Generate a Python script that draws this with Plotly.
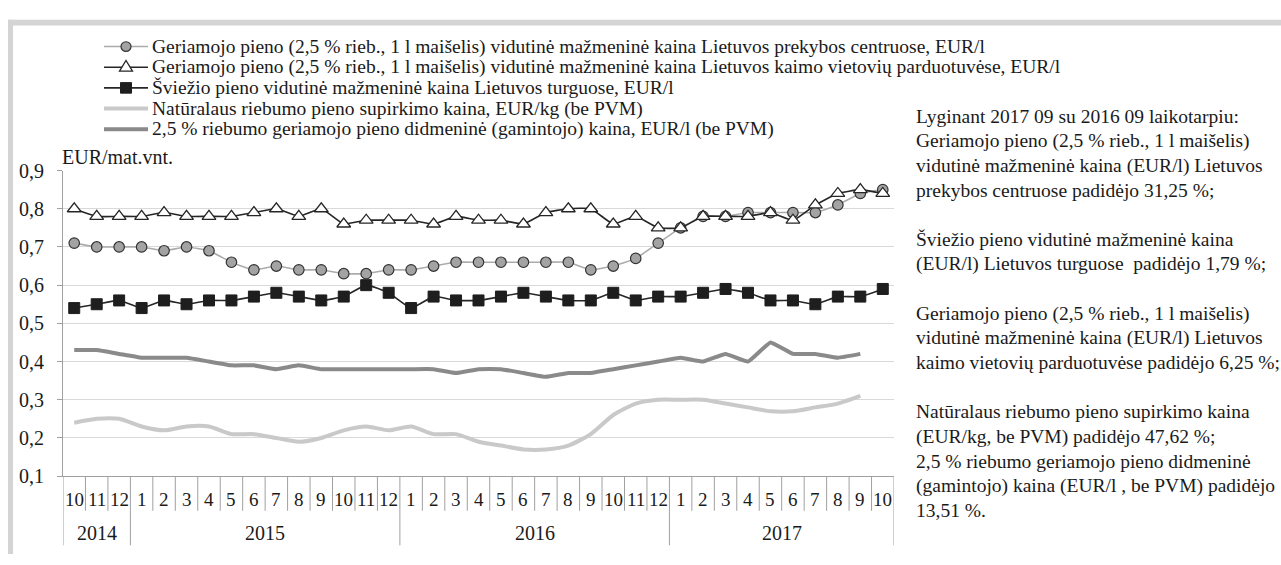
import plotly.graph_objects as go

# ---------------- data ----------------
months = [10, 11, 12] + list(range(1, 13)) + list(range(1, 13)) + list(range(1, 11))
years = [2014] * 3 + [2015] * 12 + [2016] * 12 + [2017] * 10
year_labels = ["2014", "2015", "2016", "2017"]

retail_centres = [0.71, 0.70, 0.70, 0.70, 0.69, 0.70, 0.69, 0.66, 0.64, 0.65, 0.64, 0.64,
                  0.63, 0.63, 0.64, 0.64, 0.65, 0.66, 0.66, 0.66, 0.66, 0.66, 0.66, 0.64,
                  0.65, 0.67, 0.71, 0.75, 0.78, 0.78, 0.79, 0.79, 0.79, 0.79, 0.81, 0.84, 0.85]
village_shops = [0.80, 0.78, 0.78, 0.78, 0.79, 0.78, 0.78, 0.78, 0.79, 0.80, 0.78, 0.80,
                 0.76, 0.77, 0.77, 0.77, 0.76, 0.78, 0.77, 0.77, 0.76, 0.79, 0.80, 0.80,
                 0.76, 0.78, 0.75, 0.75, 0.78, 0.78, 0.78, 0.79, 0.77, 0.81, 0.84, 0.85, 0.84]
markets = [0.54, 0.55, 0.56, 0.54, 0.56, 0.55, 0.56, 0.56, 0.57, 0.58, 0.57, 0.56,
           0.57, 0.60, 0.58, 0.54, 0.57, 0.56, 0.56, 0.57, 0.58, 0.57, 0.56, 0.56,
           0.58, 0.56, 0.57, 0.57, 0.58, 0.59, 0.58, 0.56, 0.56, 0.55, 0.57, 0.57, 0.59]
purchase = [0.24, 0.25, 0.25, 0.23, 0.22, 0.23, 0.23, 0.21, 0.21, 0.20, 0.19, 0.20,
            0.22, 0.23, 0.22, 0.23, 0.21, 0.21, 0.19, 0.18, 0.17, 0.17, 0.18, 0.21,
            0.26, 0.29, 0.30, 0.30, 0.30, 0.29, 0.28, 0.27, 0.27, 0.28, 0.29, 0.31, None]
wholesale = [0.43, 0.43, 0.42, 0.41, 0.41, 0.41, 0.40, 0.39, 0.39, 0.38, 0.39, 0.38,
             0.38, 0.38, 0.38, 0.38, 0.38, 0.37, 0.38, 0.38, 0.37, 0.36, 0.37, 0.37,
             0.38, 0.39, 0.40, 0.41, 0.40, 0.42, 0.40, 0.45, 0.42, 0.42, 0.41, 0.42, None]

series_names = [
    "Geriamojo pieno (2,5 % rieb., 1 l maišelis) vidutinė mažmeninė kaina Lietuvos prekybos centruose, EUR/l",
    "Geriamojo pieno (2,5 % rieb., 1 l maišelis) vidutinė mažmeninė kaina Lietuvos kaimo vietovių parduotuvėse, EUR/l",
    "Šviežio pieno vidutinė mažmeninė kaina Lietuvos turguose, EUR/l",
    "Natūralaus riebumo pieno supirkimo kaina, EUR/kg (be PVM)",
    "2,5 % riebumo geriamojo pieno didmeninė (gamintojo) kaina, EUR/l (be PVM)",
]

note_lines = [
    "Lyginant 2017 09 su 2016 09 laikotarpiu:",
    "Geriamojo pieno (2,5 % rieb., 1 l maišelis)",
    "vidutinė mažmeninė kaina (EUR/l) Lietuvos",
    "prekybos centruose padidėjo 31,25 %;",
    "",
    "Šviežio pieno vidutinė mažmeninė kaina",
    "(EUR/l) Lietuvos turguose  padidėjo 1,79 %;",
    "",
    "Geriamojo pieno (2,5 % rieb., 1 l maišelis)",
    "vidutinė mažmeninė kaina (EUR/l) Lietuvos",
    "kaimo vietovių parduotuvėse padidėjo 6,25 %;",
    "",
    "Natūralaus riebumo pieno supirkimo kaina",
    "(EUR/kg, be PVM) padidėjo 47,62 %;",
    "2,5 % riebumo geriamojo pieno didmeninė",
    "(gamintojo) kaina (EUR/l , be PVM) padidėjo",
    "13,51 %.",
]

# ---------------- layout helpers ----------------
W, H = 1281, 565
FONT = "Liberation Serif, Times New Roman, Times, serif"
TXT = "#1a1a1a"
AX = "#a0a0a0"
FS = 20

def fx(px):
    return px / W

def fy(py):
    return 1 - py / H

PL, PR, PT, PB = 63, 894, 166, 484   # plot area in pixels
n = len(months)
idx = list(range(n))

fig = go.Figure()

fig.add_trace(go.Scatter(
    x=idx, y=purchase, mode="lines", name=series_names[3],
    line=dict(color="#c9c9c9", width=4, shape="spline", smoothing=0.6),
    connectgaps=False, showlegend=False))
fig.add_trace(go.Scatter(
    x=idx, y=wholesale, mode="lines", name=series_names[4],
    line=dict(color="#8a8a8a", width=4, shape="spline", smoothing=0.3),
    showlegend=False))
fig.add_trace(go.Scatter(
    x=idx, y=markets, mode="lines+markers", name=series_names[2],
    line=dict(color="#262626", width=1.6, shape="spline", smoothing=0.4),
    marker=dict(symbol="square", size=11, color="#1e1e1e", line=dict(color="#1e1e1e", width=1)),
    showlegend=False))
fig.add_trace(go.Scatter(
    x=idx, y=retail_centres, mode="lines+markers", name=series_names[0],
    line=dict(color="#ababab", width=1.6, shape="spline", smoothing=0.4),
    marker=dict(symbol="circle", size=10.5, color="#a3a3a3", line=dict(color="#333333", width=1.2)),
    showlegend=False))
fig.add_trace(go.Scatter(
    x=idx, y=village_shops, mode="lines+markers", name=series_names[1],
    line=dict(color="#262626", width=1.6, shape="spline", smoothing=0.4),
    marker=dict(symbol="triangle-up", size=12, color="white", line=dict(color="#262626", width=1.3)),
    showlegend=False))

shapes = []
annotations = []

# outer frame (light grey, open at right/bottom like the crop)
shapes.append(dict(type="rect", xref="paper", yref="paper", x0=fx(8), x1=fx(W), y0=fy(15), y1=fy(9),
                   fillcolor="#d4d4d4", line=dict(width=0), layer="below"))
shapes.append(dict(type="rect", xref="paper", yref="paper", x0=fx(8), x1=fx(13), y0=fy(H), y1=fy(9),
                   fillcolor="#d4d4d4", line=dict(width=0), layer="below"))

# category separators below the x axis
for i in range(n + 1):
    boundary = i - 0.5
    is_year = (i == 0) or (i == n) or (years[i] != years[i - 1])
    shapes.append(dict(type="line", xref="x", yref="paper", x0=boundary, x1=boundary,
                       y0=fy(PB), y1=fy(556 if is_year else 520),
                       line=dict(color=AX, width=1)))

# month labels
for i, m in enumerate(months):
    annotations.append(dict(x=i, y=fy(508), xref="x", yref="paper", text=str(m), showarrow=False,
                            font=dict(family=FONT, size=19, color=TXT), xanchor="center", yanchor="middle"))
# year labels
for yl in year_labels:
    members = [i for i, yy in enumerate(years) if str(yy) == yl]
    cx = (members[0] + members[-1]) / 2
    annotations.append(dict(x=cx, y=fy(543), xref="x", yref="paper", text=yl, showarrow=False,
                            font=dict(family=FONT, size=FS, color=TXT), xanchor="center", yanchor="middle"))

# unit label
annotations.append(dict(x=fx(60), y=fy(152), xref="paper", yref="paper", text="EUR/mat.vnt.",
                        showarrow=False, font=dict(family=FONT, size=FS, color=TXT),
                        xanchor="left", yanchor="middle"))

# legend (manual)
leg_rows = [37, 58.5, 80, 101.5, 123]
LX0, LX1, LTX = 104, 148, 150
leg_styles = [
    dict(color="#ababab", width=1.6, marker="circle"),
    dict(color="#262626", width=1.6, marker="triangle"),
    dict(color="#262626", width=1.6, marker="square"),
    dict(color="#c9c9c9", width=4, marker=None),
    dict(color="#8a8a8a", width=4, marker=None),
]
for row, st, name in zip(leg_rows, leg_styles, series_names):
    shapes.append(dict(type="line", xref="paper", yref="paper", x0=fx(LX0), x1=fx(LX1),
                       y0=fy(row), y1=fy(row), line=dict(color=st["color"], width=st["width"])))
    cx = (LX0 + LX1) / 2
    if st["marker"] == "circle":
        r = 5
        shapes.append(dict(type="circle", xref="paper", yref="paper", x0=fx(cx - r), x1=fx(cx + r),
                           y0=fy(row + r), y1=fy(row - r), fillcolor="#a3a3a3",
                           line=dict(color="#333333", width=1.2)))
    elif st["marker"] == "triangle":
        pts = [(cx - 6.5, row + 4), (cx + 6.5, row + 4), (cx, row - 7)]
        path = "M {} {} L {} {} L {} {} Z".format(*[v for p in pts for v in (fx(p[0]), fy(p[1]))])
        shapes.append(dict(type="path", xref="paper", yref="paper", path=path, fillcolor="white",
                           line=dict(color="#262626", width=1.3)))
    elif st["marker"] == "square":
        r = 5.5
        shapes.append(dict(type="rect", xref="paper", yref="paper", x0=fx(cx - r), x1=fx(cx + r),
                           y0=fy(row + r), y1=fy(row - r), fillcolor="#1e1e1e",
                           line=dict(color="#1e1e1e", width=1)))
    annotations.append(dict(x=fx(LTX), y=fy(row), xref="paper", yref="paper", text=name, showarrow=False,
                            font=dict(family=FONT, size=19.5, color=TXT), xanchor="left", yanchor="middle"))

# note block on the right
NOTE_X, NOTE_Y0, NOTE_DY = 914, 110, 25.6
for k, line in enumerate(note_lines):
    if not line:
        continue
    annotations.append(dict(x=fx(NOTE_X), y=fy(NOTE_Y0 + k * NOTE_DY), xref="paper", yref="paper",
                            text=line, showarrow=False, font=dict(family=FONT, size=19.5, color=TXT),
                            xanchor="left", yanchor="middle"))

fig.update_layout(
    width=W, height=H, autosize=False,
    margin=dict(l=0, r=0, t=0, b=0),
    paper_bgcolor="white", plot_bgcolor="white",
    separators=", ",
    showlegend=False,
    font=dict(family=FONT, size=FS, color=TXT),
    xaxis=dict(domain=[fx(PL), fx(PR)], range=[-0.5, n - 0.5], showgrid=False, zeroline=False,
               showticklabels=False, ticks="", showline=True, linecolor=AX, linewidth=1, fixedrange=True),
    yaxis=dict(domain=[fy(PB), fy(PT)], range=[0.1, 0.9], dtick=0.1, tick0=0.1, tickformat=".1f",
               showgrid=True, gridcolor="#d9d9d9", gridwidth=1, zeroline=False,
               showline=True, linecolor=AX, linewidth=1, ticks="outside", ticklen=5, tickcolor=AX,
               ticklabelstandoff=9, tickfont=dict(family=FONT, size=FS, color=TXT), fixedrange=True),
    shapes=shapes,
    annotations=annotations,
)

fig.write_html("out.html", config={"displayModeBar": False},
               post_script="document.body.style.margin='0';document.body.style.overflow='hidden';")
